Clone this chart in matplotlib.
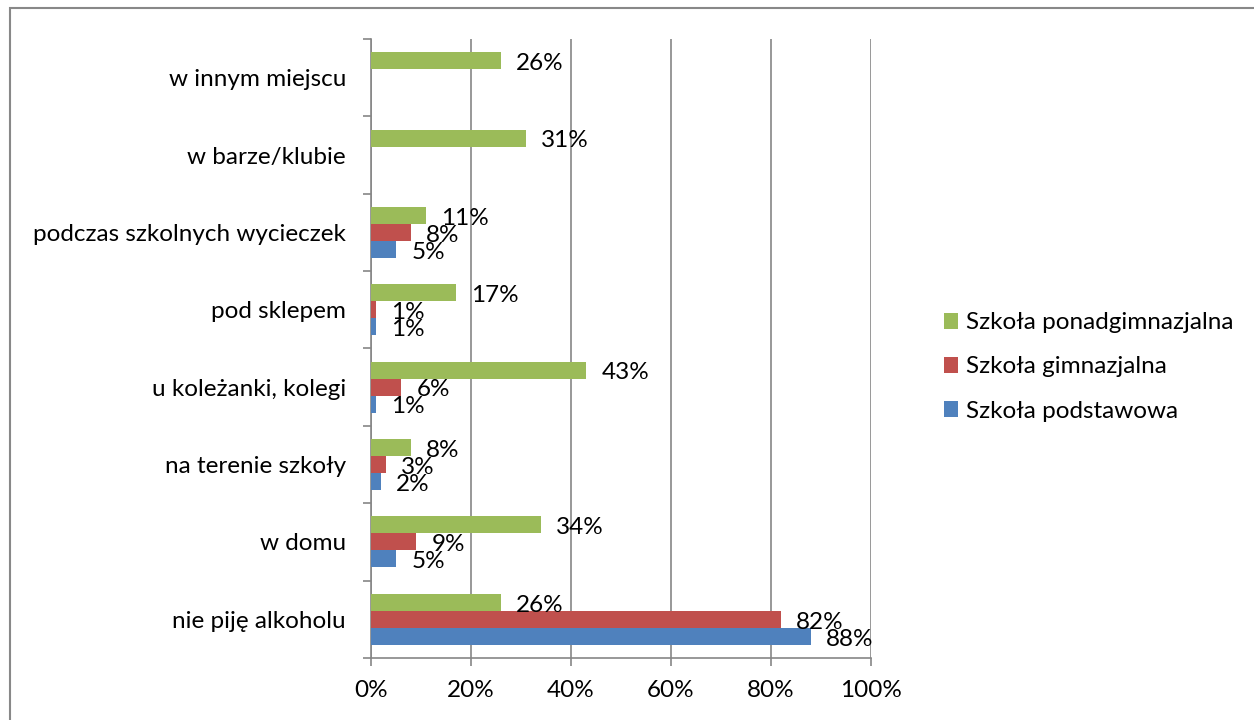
import numpy as np
import matplotlib.pyplot as plt
from matplotlib.patches import Rectangle

plt.rcParams.update({
    "font.family": ["Lato", "DejaVu Sans"],
    "font.size": 17.5,
})

categories = [
    "nie piję alkoholu",
    "w domu",
    "na terenie szkoły",
    "u koleżanki, kolegi",
    "pod sklepem",
    "podczas szkolnych wycieczek",
    "w barze/klubie",
    "w innym miejscu",
]
podstawowa = [88, 5, 2, 1, 1, 5, None, None]
gimnazjalna = [82, 9, 3, 6, 1, 8, None, None]
ponadgimnazjalna = [26, 34, 8, 43, 17, 11, 31, 26]

series = [
    ("Szkoła podstawowa", podstawowa, "#4F81BD", -1),
    ("Szkoła gimnazjalna", gimnazjalna, "#C0504D", 0),
    ("Szkoła ponadgimnazjalna", ponadgimnazjalna, "#9BBB59", 1),
]

fig = plt.figure(figsize=(12.54, 7.2), dpi=100)
ax = fig.add_axes([371 / 1254, 1 - 658 / 720, 500 / 1254, 619 / 720])

y = np.arange(len(categories))
h = 0.22
handles = []
for name, vals, color, off in series:
    idx = [i for i, v in enumerate(vals) if v is not None]
    v = [vals[i] for i in idx]
    bars = ax.barh(y[idx] + off * h, v, height=h, color=color, label=name, zorder=3)
    handles.append(bars)
    for yi, vi in zip(y[idx] + off * h, v):
        ax.annotate(f"{vi}%", (vi, yi), xytext=(11, -2), textcoords="offset points",
                    va="center", ha="left", zorder=4)

ax.set_xlim(0, 100)
ax.set_ylim(-0.5, len(categories) - 0.5)
ax.set_xticks(np.arange(0, 101, 20))
ax.set_xticklabels([f"{t}%" for t in range(0, 101, 20)])
ax.set_yticks(np.arange(len(categories) + 1) - 0.5, minor=False)
ax.set_yticklabels([])
ax.set_yticks(y, minor=True)
ax.set_yticklabels(categories, minor=True)
ax.tick_params(axis="y", which="major", length=6, color="#868686", width=1.2)
ax.tick_params(axis="y", which="minor", length=0, pad=18)
ax.tick_params(axis="x", length=6, direction="out", color="#868686", width=1.2, pad=10)
ax.grid(axis="x", color="#868686", lw=1.2, zorder=0)
for s in ["top", "right"]:
    ax.spines[s].set_visible(False)
for s in ["left", "bottom"]:
    ax.spines[s].set_color("#868686")
    ax.spines[s].set_linewidth(1.2)

leg_h = handles[::-1]
ax.legend(leg_h, [hh.get_label() for hh in leg_h], loc="center left",
          bbox_to_anchor=(922 / 1254, 1 - 367 / 720), bbox_transform=fig.transFigure,
          frameon=False, handlelength=0.6, handleheight=0.6, handletextpad=0.3,
          labelspacing=0.95)

fig.add_artist(Rectangle((10 / 1254, -0.1), 2, 1 - 8 / 720 + 0.1, transform=fig.transFigure,
                         fill=False, ec="#888888", lw=1.5))

fig.savefig("out.png", dpi=100)
